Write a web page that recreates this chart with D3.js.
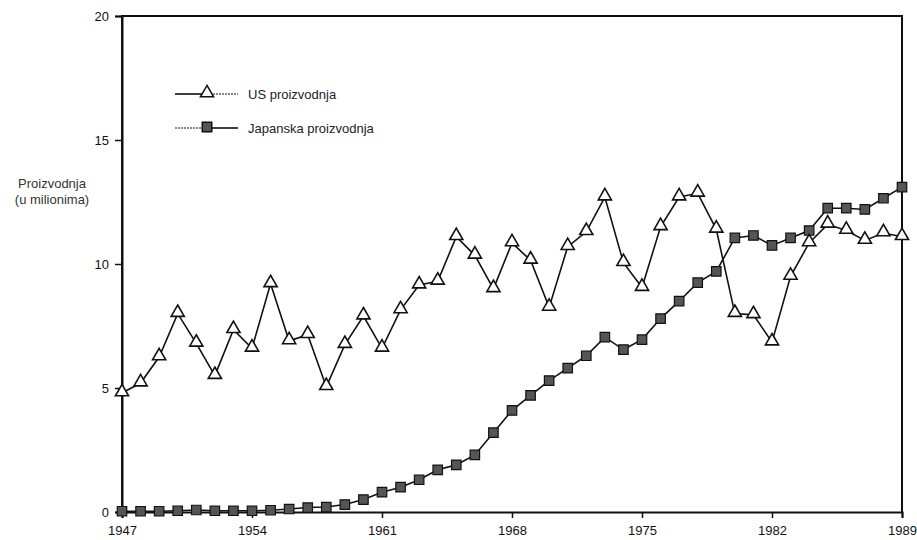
<!DOCTYPE html>
<html>
<head>
<meta charset="utf-8">
<script src="https://cdn.jsdelivr.net/npm/d3@7/dist/d3.min.js"></script>
<style>
  body { margin: 0; background: #fff; }
  svg { display: block; font-family: "Liberation Sans", Arial, sans-serif; }
</style>
</head>
<body>
<svg id="chart" width="917" height="540"></svg>
<script>
// godine 1947 - 1989
var years = d3.range(1947, 1990);
var xTicks = [1947, 1954, 1961, 1968, 1975, 1982, 1989];
var yTicks = [0, 5, 10, 15, 20];

var usProd = [4.8, 5.2, 6.25, 8.0, 6.8, 5.5, 7.35, 6.6, 9.2, 6.9,
              7.15, 5.05, 6.75, 7.9, 6.6, 8.15, 9.15, 9.3, 11.1, 10.35,
              9.0, 10.85, 10.15, 8.25, 10.7, 11.3, 12.7, 10.05, 9.05, 11.5,
              12.7, 12.85, 11.4, 8.0, 7.95, 6.85, 9.5, 10.85, 11.6, 11.35,
              10.95, 11.25, 11.1];

var japanProd = [0.03, 0.03, 0.03, 0.05, 0.08, 0.05, 0.05, 0.05, 0.07, 0.12,
                 0.18, 0.2, 0.3, 0.5, 0.8, 1.0, 1.3, 1.7, 1.9, 2.3,
                 3.2, 4.1, 4.7, 5.3, 5.8, 6.3, 7.05, 6.55, 6.95, 7.8,
                 8.5, 9.25, 9.7, 11.05, 11.15, 10.75, 11.05, 11.35, 12.25, 12.25,
                 12.2, 12.65, 13.1];

var svg = d3.select("#chart");
var mLeft = 122, mRight = 902, mTop = 16, mBottom = 512;

var x = d3.scaleLinear().domain([1947, 1989]).range([mLeft, mRight]);
var y = d3.scaleLinear().domain([0, 20]).range([mBottom, mTop]);

// okvir
svg.append("path")
    .attr("d", "M" + mLeft + "," + mBottom + "V" + mTop + "H" + mRight + "V" + mBottom)
    .attr("fill", "none")
    .attr("stroke", "#111")
    .attr("stroke-width", 2);

var xAxis = svg.append("g")
    .attr("transform", "translate(0," + mBottom + ")")
    .call(d3.axisBottom(x).tickValues(xTicks).tickFormat(d3.format("d")).tickSize(6).tickPadding(8));
xAxis.select(".domain").attr("stroke-width", 2).attr("stroke", "#111");
xAxis.selectAll(".tick line").attr("stroke-width", 1.5).attr("stroke", "#111");
xAxis.selectAll("text").attr("font-size", 13).attr("fill", "#111");

var yAxis = svg.append("g")
    .attr("transform", "translate(" + mLeft + ",0)")
    .call(d3.axisLeft(y).tickValues(yTicks).tickSize(7).tickPadding(6));
yAxis.select(".domain").attr("stroke-width", 2).attr("stroke", "#111");
yAxis.selectAll(".tick line").attr("stroke-width", 1.5).attr("stroke", "#111");
yAxis.selectAll("text").attr("font-size", 13).attr("fill", "#111");

svg.append("text")
    .attr("x", 52).attr("y", 188)
    .attr("text-anchor", "middle")
    .attr("font-size", 13).attr("fill", "#333")
    .text("Proizvodnja");
svg.append("text")
    .attr("x", 52).attr("y", 204)
    .attr("text-anchor", "middle")
    .attr("font-size", 13).attr("fill", "#333")
    .text("(u milionima)");

var line = d3.line()
    .x(function(d, i){ return x(years[i]); })
    .y(function(d){ return y(d); });

svg.append("path").datum(japanProd)
    .attr("d", line).attr("fill", "none")
    .attr("stroke", "#111").attr("stroke-width", 1.6);
svg.append("path").datum(usProd)
    .attr("d", line).attr("fill", "none")
    .attr("stroke", "#111").attr("stroke-width", 1.6);

var tri = d3.symbol().type(d3.symbolTriangle).size(75);
var sq = d3.symbol().type(d3.symbolSquare).size(90);

svg.selectAll(".jp").data(japanProd).enter()
    .append("path").attr("class", "jp")
    .attr("d", sq)
    .attr("transform", function(d, i){ return "translate(" + x(years[i]) + "," + y(d) + ")"; })
    .attr("fill", "#555").attr("stroke", "#111").attr("stroke-width", 1.2);

svg.selectAll(".us").data(usProd).enter()
    .append("path").attr("class", "us")
    .attr("d", tri)
    .attr("transform", function(d, i){ return "translate(" + x(years[i]) + "," + (y(d) - 1) + ")"; })
    .attr("fill", "#fff").attr("stroke", "#111").attr("stroke-width", 1.6);

// legenda
var legend = [
  {label: "US proizvodnja", sym: tri, fill: "#fff", ly: 94, leftDash: null, rightDash: "2,1"},
  {label: "Japanska proizvodnja", sym: sq, fill: "#555", ly: 128, leftDash: "2,1", rightDash: null}
];
legend.forEach(function(l){
  var g = svg.append("g");
  g.append("line").attr("x1", 175).attr("x2", 207).attr("y1", l.ly).attr("y2", l.ly)
      .attr("stroke", "#111").attr("stroke-width", l.leftDash ? 1 : 1.6)
      .attr("stroke-dasharray", l.leftDash);
  g.append("line").attr("x1", 207).attr("x2", 238).attr("y1", l.ly).attr("y2", l.ly)
      .attr("stroke", "#111").attr("stroke-width", l.rightDash ? 1 : 1.6)
      .attr("stroke-dasharray", l.rightDash);
  g.append("path").attr("d", l.sym)
      .attr("transform", "translate(207," + (l.ly - 1) + ")")
      .attr("fill", l.fill).attr("stroke", "#111").attr("stroke-width", 1.5);
  g.append("text").attr("x", 248).attr("y", l.ly + 4.5)
      .attr("font-size", 13).attr("fill", "#222")
      .text(l.label);
});
</script>
</body>
</html>
